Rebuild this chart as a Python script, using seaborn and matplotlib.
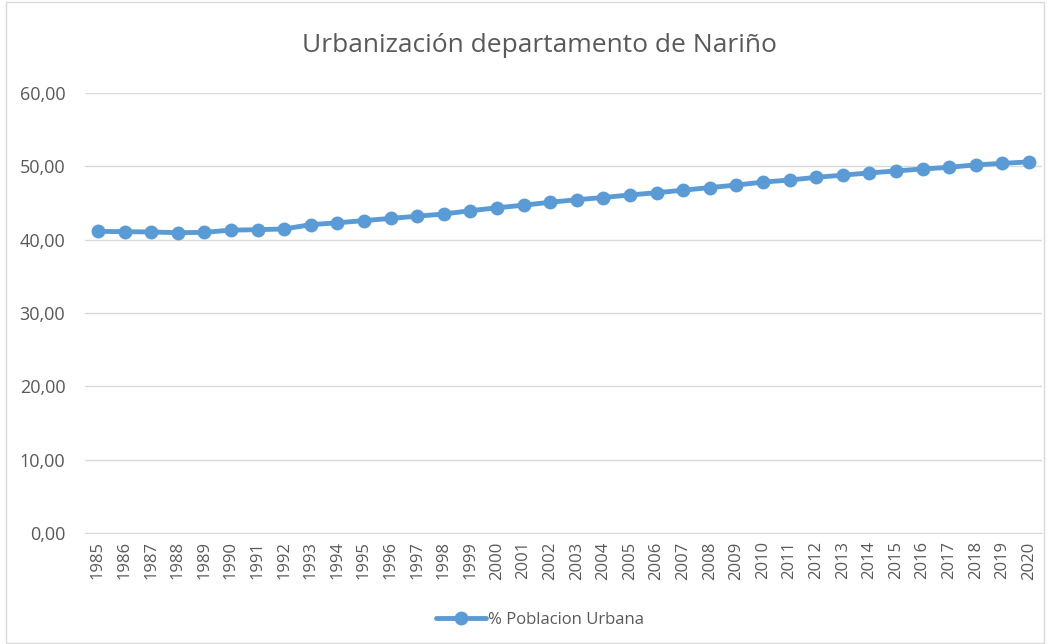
import matplotlib
matplotlib.use("Agg")
import matplotlib.pyplot as plt
import pandas as pd
import seaborn as sns
from matplotlib.patches import Rectangle

years = list(range(1985, 2021))
urbana = [41.13, 41.09, 41.05, 40.95, 41.00, 41.30, 41.36, 41.46, 42.05, 42.30,
          42.60, 42.90, 43.20, 43.50, 43.95, 44.35, 44.70, 45.10, 45.45, 45.75,
          46.10, 46.40, 46.75, 47.10, 47.45, 47.85, 48.13, 48.50, 48.80, 49.10,
          49.37, 49.64, 49.87, 50.20, 50.41, 50.60]
yticks = [0, 10, 20, 30, 40, 50, 60]

df = pd.DataFrame({"year": [str(y) for y in years], "urbana": urbana})

sns.set_style("white")
plt.rcParams["font.family"] = ["Open Sans", "DejaVu Sans"]

blue = "#5B9BD5"
grey = "#595959"

fig = plt.figure(figsize=(10.48, 6.44), dpi=100)
ax = fig.add_axes([84.7 / 1048, 111 / 644, (1042.3 - 84.7) / 1048, 440 / 644])

sns.lineplot(data=df, x="year", y="urbana", ax=ax, color=blue, linewidth=3.5,
             marker="o", markersize=10, markeredgewidth=0, sort=False,
             label="% Poblacion Urbana")

ax.set_xlim(-0.5, len(years) - 0.5)
ax.set_ylim(0, 60)
ax.set_yticks(yticks)
ax.set_yticklabels([f"{v:.2f}".replace(".", ",") for v in yticks])
ax.grid(axis="y", color="#d9d9d9", linewidth=1)
ax.set_axisbelow(True)
for s in ["top", "right", "left"]:
    ax.spines[s].set_visible(False)
ax.spines["bottom"].set_color("#d9d9d9")
ax.tick_params(axis="x", rotation=90, labelsize=12, colors=grey, length=0, pad=6)
ax.tick_params(axis="y", labelsize=13, colors=grey, length=0, pad=14)
ax.set_xlabel("")
ax.set_ylabel("")

fig.text(0.515, 0.93, "Urbanización departamento de Nariño", ha="center", va="center",
         fontsize=19, color=grey)

ax.legend(frameon=False, fontsize=12, labelcolor=grey, handlelength=3,
          handletextpad=0.1, loc="center",
          bbox_to_anchor=(0.515, 24 / 644), bbox_transform=fig.transFigure)

fig.patches.append(Rectangle((0.006, 0.002), 0.99, 0.995, transform=fig.transFigure,
                             fill=False, edgecolor="#d9d9d9", linewidth=1))

fig.savefig("out.png", dpi=100)
